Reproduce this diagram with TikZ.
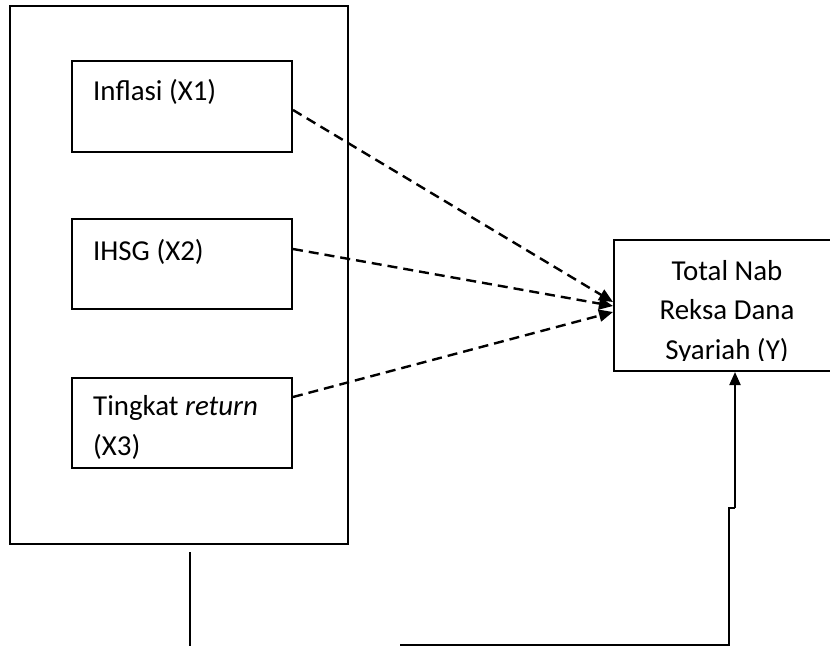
\documentclass[tikz,border=0pt]{standalone}
\usepackage{fontspec}
\setmainfont{Carlito}
\usetikzlibrary{arrows.meta,calc}
\begin{document}
\begin{tikzpicture}[x=1bp,y=-1bp,
  box/.style={draw, line width=2bp, inner sep=0pt},
  lbl/.style={anchor=base west, inner sep=0pt, font=\fontsize{29}{35}\selectfont},
  clbl/.style={anchor=base, inner sep=0pt, font=\fontsize{29}{35}\selectfont},
  dasharrow/.style={line width=2.4bp, dash pattern=on 10bp off 6bp, -{Triangle[length=14bp,width=12bp]}},
  solidline/.style={line width=2bp},
  solidarrow/.style={line width=2bp, -{Triangle[length=13bp,width=11bp]}}
]
\useasboundingbox (0,0) rectangle (830,646);
\clip (0,0) rectangle (830,646);

% boxes
\node[box, minimum width=338bp, minimum height=538bp] (outer) at (179,275) {};
\node[box, minimum width=220bp, minimum height=91bp] (b1) at (182,106.5) {};
\node[box, minimum width=220bp, minimum height=90bp] (b2) at (182,264) {};
\node[box, minimum width=220bp, minimum height=90bp] (b3) at (182,423) {};
\node[box, minimum width=246bp, minimum height=131bp] (rb) at (737,305.5) {};

% left texts
\node[lbl] (t1) at (93,101) {Inflasi (X1)};
\node[lbl] (t2) at (93,260) {IHSG (X2)};
\node[lbl] (t3a) at (93,415) {Tingkat \textit{return}};
\node[lbl] (t3b) at (93,455) {(X3)};

% right texts (clipped at the text area)
\begin{scope}
  \clip (614,240) rectangle (830,360.5);
  \node[clbl] (r1) at (727,280) {Total Nab};
  \node[clbl] (r2) at (727,319) {Reksa Dana};
  \node[clbl] (r3) at (727,359) {Syariah (Y)};
\end{scope}

% dashed arrows
\draw[dasharrow] ($(b1.east)+(0,3.5)$) -- ($(rb.west)+(0,-3.5)$);
\draw[dasharrow] ($(b2.east)+(0,-15)$) -- ($(rb.west)+(0,0.5)$);
\draw[dasharrow] ($(b3.east)+(0,-26)$) -- ($(rb.west)+(0,6.5)$);

% bottom connectors
\coordinate (v1) at ($(outer.south)+(11,7)$);
\coordinate (v2) at (190,650);
\draw[solidline] (v1) -- (v2);
\coordinate (h1) at (400,644.5);
\coordinate (h2) at (729,644.5);
\coordinate (j1) at (729,508);
\coordinate (j2) at (735,508);
\draw[solidline] (h1) -- (h2) -- (j1) -- (j2);
\draw[solidarrow] (j2) -- (j2 |- rb.south);
\end{tikzpicture}
\end{document}
